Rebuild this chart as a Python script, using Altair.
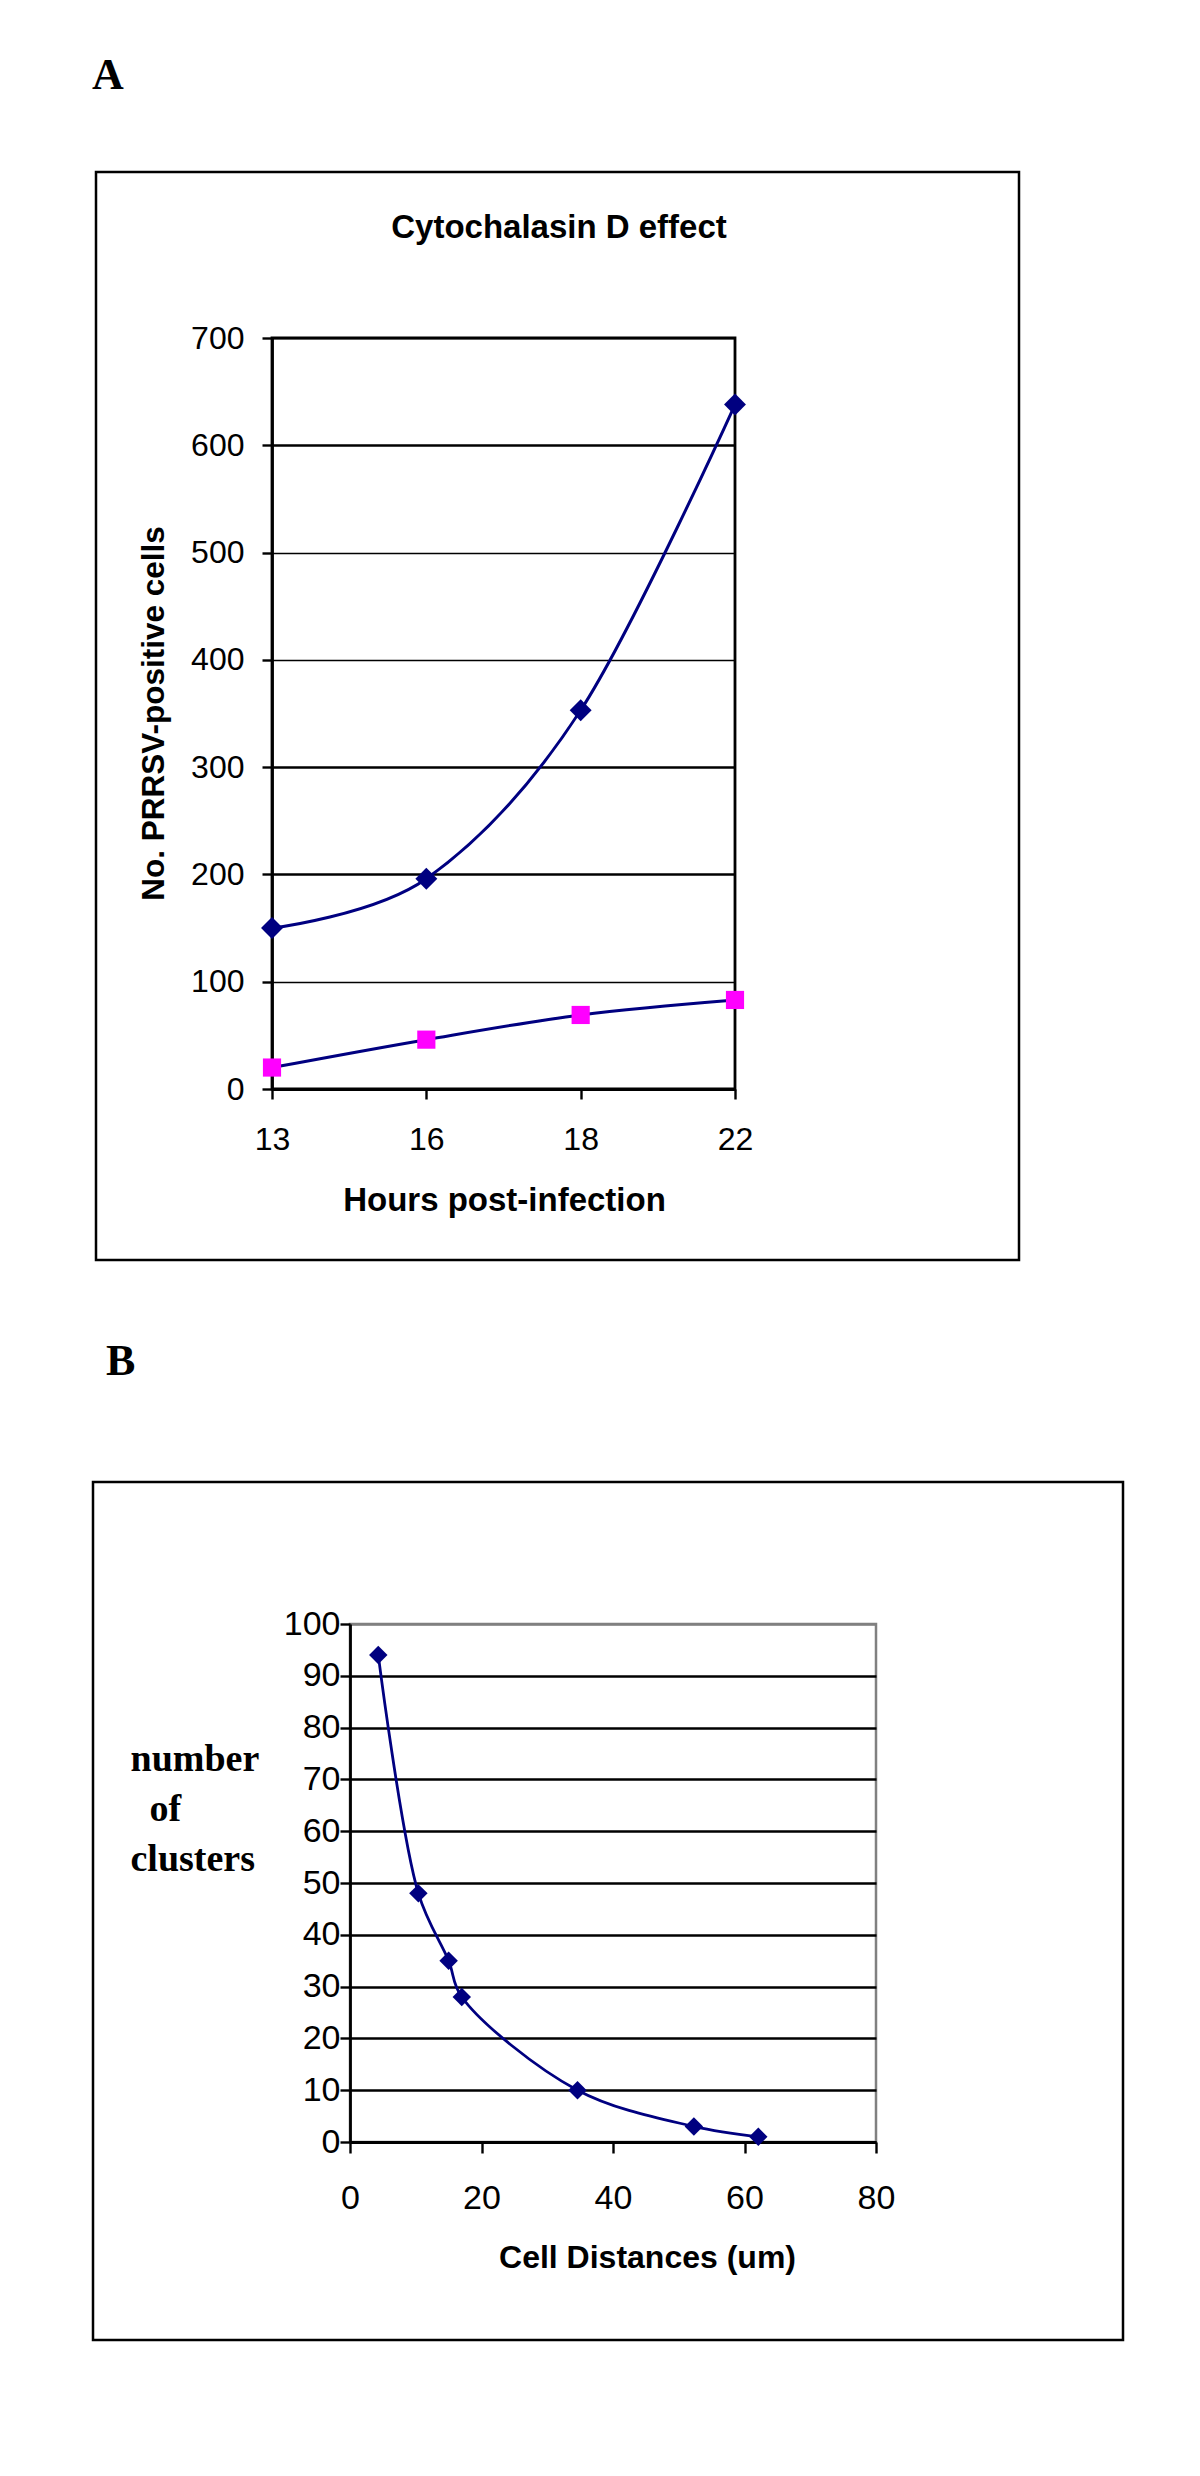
import altair as alt
import pandas as pd

# ---------------- data ----------------
hours = ["13", "16", "18", "22"]
control_cells = [150, 196, 353, 638]
treated_cells = [20, 46, 69, 83]

distances = [4.3, 10.4, 15.0, 17.0, 34.6, 52.3, 62.1]
clusters = [94, 48, 35, 28, 10, 3, 1]

y_ticks_A = [0, 100, 200, 300, 400, 500, 600, 700]
x_ticks_B = [0, 20, 40, 60, 80]
y_ticks_B = [0, 10, 20, 30, 40, 50, 60, 70, 80, 90, 100]

NAVY = "#000080"
MAGENTA = "#FF00FF"
SANS = "Liberation Sans, Arial, Helvetica, sans-serif"
SERIF = "Liberation Serif, Times New Roman, serif"

dfA = pd.DataFrame({
    "hour": hours * 2,
    "cells": control_cells + treated_cells,
    "series": ["control"] * len(hours) + ["cytochalasin"] * len(hours),
})
dfB = pd.DataFrame({"dist": distances, "clusters": clusters})
one = pd.DataFrame({"k": [0]})

A_W, A_H = 463, 751
B_W, B_H = 526, 518

axis_common = dict(
    domainColor="black", domainWidth=2.8, tickColor="black", tickWidth=2.4,
    labelFont=SANS, labelColor="black", labelFlush=False, labelOverlap=False,
    titleFont=SANS, titleColor="black", titleFontWeight="bold",
)

# ---------------- panel A ----------------
xA = alt.X(
    "hour:O",
    scale=alt.Scale(type="point", padding=0, domain=hours),
    axis=alt.Axis(
        title="Hours post-infection", labelAngle=0, tickSize=10, labelFontSize=32,
        labelPadding=25, grid=False, titleFontSize=33, titleX=232, titleY=121,
        titleAlign="center", titleBaseline="alphabetic", titleAngle=0, **axis_common,
    ),
)
yA = alt.Y(
    "cells:Q",
    scale=alt.Scale(domain=[0, 700], nice=False),
    axis=alt.Axis(
        title="No. PRRSV-positive cells", values=y_ticks_A, format="d", tickSize=10,
        labelFontSize=32, labelPadding=18, grid=True, gridColor="black", gridOpacity=1,
        gridWidth={"condition": {"test": "datum.value == 200 || datum.value == 300 || datum.value == 600", "value": 2.7}, "value": 1.7},
        titleFontSize=31.5, titleAngle=270, titleX=-109, titleY=375,
        titleAlign="center", titleBaseline="alphabetic", **axis_common,
    ),
)

baseA = alt.Chart(dfA)
lineA = baseA.mark_line(interpolate="cardinal", color=NAVY, strokeWidth=3).encode(
    x=xA, y=yA, detail="series:N"
)
ptsA1 = baseA.transform_filter(alt.datum.series == "control").mark_point(
    shape="diamond", filled=True, size=480, color=NAVY, opacity=1
).encode(x=xA, y=yA)
ptsA2 = baseA.transform_filter(alt.datum.series == "cytochalasin").mark_point(
    shape="square", filled=True, size=330, color=MAGENTA, opacity=1
).encode(x=xA, y=yA)

titleA = alt.Chart(one).mark_text(
    text="Cytochalasin D effect", font=SANS, fontSize=33, fontWeight="bold",
    align="center", baseline="alphabetic", color="black",
).encode(x=alt.value(287), y=alt.value(-100))
letterA = alt.Chart(one).mark_text(
    text="A", font=SERIF, fontSize=44, fontWeight="bold",
    align="left", baseline="alphabetic", color="black",
).encode(x=alt.value(-180), y=alt.value(-249))
boxA = alt.Chart(one).mark_rect(fill="transparent", stroke="black", strokeWidth=2.5).encode(
    x=alt.value(-176), x2=alt.value(747), y=alt.value(-166), y2=alt.value(922)
)
anchor = alt.Chart(one).mark_rect(color="white").encode(
    x=alt.value(-262), x2=alt.value(-261), y=alt.value(-328), y2=alt.value(-327)
)

panelA = alt.layer(anchor, boxA, letterA, titleA, lineA, ptsA1, ptsA2).properties(
    width=A_W, height=A_H,
    view=alt.ViewBackground(stroke="black", strokeWidth=2.8),
)

# ---------------- panel B ----------------
xB = alt.X(
    "dist:Q",
    scale=alt.Scale(domain=[0, 80], nice=False),
    axis=alt.Axis(
        title="Cell Distances (um)", values=x_ticks_B, format="d", tickSize=11,
        labelFontSize=34, labelPadding=28, grid=False, titleFontSize=32,
        titleX=297, titleY=125, titleAlign="center", titleBaseline="alphabetic",
        titleAngle=0, **axis_common,
    ),
)
yB = alt.Y(
    "clusters:Q",
    scale=alt.Scale(domain=[0, 100], nice=False),
    axis=alt.Axis(
        title=["number", "\u200b\u00a0\u00a0of", "clusters"], values=y_ticks_B, format="d",
        tickSize=10, labelFontSize=34, labelPadding=0, grid=True, gridOpacity=1,
        gridColor={"condition": {"test": "datum.value == 100", "value": "#808080"}, "value": "black"},
        gridWidth=2.6, titleFont=SERIF, titleFontSize=38, titleFontWeight="bold",
        titleColor="black", titleAngle=0, titleAlign="left", titleBaseline="alphabetic",
        titleX=-220, titleY=146, titleLineHeight=50,
        domainColor="black", domainWidth=2.8, tickColor="black", tickWidth=2.4,
        labelFont=SANS, labelColor="black", labelFlush=False, labelOverlap=False,
    ),
)

baseB = alt.Chart(dfB)
lineB = baseB.mark_line(interpolate="catmull-rom", color=NAVY, strokeWidth=2.8).encode(x=xB, y=yB)
ptsB = baseB.mark_point(shape="diamond", filled=True, size=340, color=NAVY, opacity=1).encode(x=xB, y=yB)

letterB = alt.Chart(one).mark_text(
    text="B", font=SERIF, fontSize=44, fontWeight="bold",
    align="left", baseline="alphabetic", color="black",
).encode(x=alt.value(-244), y=alt.value(-249))
boxB = alt.Chart(one).mark_rect(fill="transparent", stroke="black", strokeWidth=2.5).encode(
    x=alt.value(-257), x2=alt.value(773), y=alt.value(-142), y2=alt.value(716)
)

panelB = alt.layer(boxB, letterB, lineB, ptsB).properties(
    width=B_W, height=B_H,
    view=alt.ViewBackground(stroke="#808080", strokeWidth=2.5),
)

spacer = alt.Chart(one).mark_rect(opacity=0).encode(
    x=alt.value(0), x2=alt.value(1), y=alt.value(0), y2=alt.value(1)
).properties(width=78, height=1, view=alt.ViewBackground(stroke="transparent"))

rowB = alt.hconcat(spacer, panelB, spacing=0, bounds="flush")

chart = alt.vconcat(panelA, rowB, spacing=535, bounds="flush").properties(
    padding=0, background="white"
)

chart.save("out.html", embed_options={"renderer": "svg", "actions": False})
